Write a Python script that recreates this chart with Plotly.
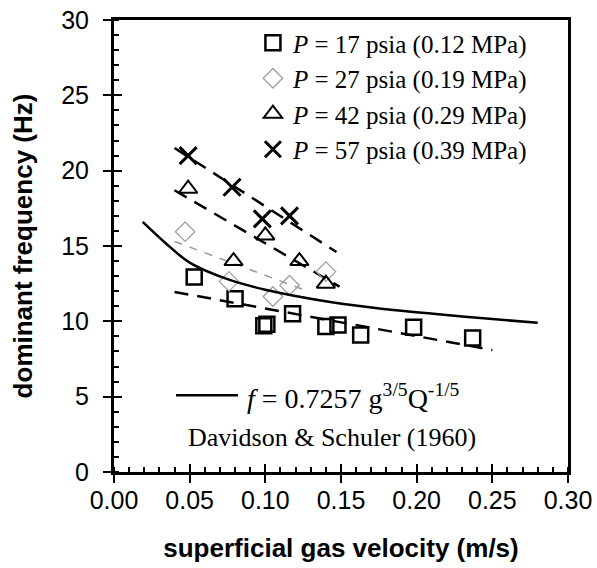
import plotly.graph_objects as go

# ---- data ----
sq_x = [0.053, 0.080, 0.099, 0.101, 0.118, 0.140, 0.148, 0.163, 0.198, 0.237]
sq_y = [12.95, 11.5, 9.7, 9.8, 10.5, 9.65, 9.75, 9.1, 9.6, 8.9]

di_x = [0.047, 0.076, 0.105, 0.116, 0.140]
di_y = [15.95, 12.65, 11.65, 12.4, 13.3]

tr_x = [0.049, 0.079, 0.100, 0.1225, 0.140]
tr_y = [18.8, 14.0, 15.7, 14.0, 12.5]

xx_x = [0.049, 0.078, 0.098, 0.116]
xx_y = [21.0, 18.9, 16.8, 17.0]

# dashed fit lines (end points)
fit_sq_x = [0.040, 0.250]
fit_sq_y = [11.95, 8.1]
fit_di_x = [0.040, 0.128]
fit_di_y = [15.3, 12.0]
fit_tr_x = [0.040, 0.149]
fit_tr_y = [18.7, 12.3]
fit_xx_x = [0.040, 0.147]
fit_xx_y = [21.5, 14.6]

# Davidson & Schuler curve
ds_x = [0.019, 0.034, 0.050, 0.075, 0.100, 0.145, 0.180, 0.211, 0.250, 0.280]
ds_y = [16.6, 15.2, 13.9, 12.8, 12.1, 11.25, 10.8, 10.5, 10.15, 9.9]

names = ["<i>P</i> = 17 psia (0.12 MPa)", "<i>P</i> = 27 psia (0.19 MPa)",
         "<i>P</i> = 42 psia (0.29 MPa)", "<i>P</i> = 57 psia (0.39 MPa)"]

SERIF = "Liberation Serif, Times New Roman, serif"
SANS = "Liberation Sans, Arial, sans-serif"

fig = go.Figure()

dash = "14px,9px"
fig.add_trace(go.Scatter(x=fit_sq_x, y=fit_sq_y, mode="lines", showlegend=False,
                         line=dict(color="black", width=2.5, dash=dash)))
fig.add_trace(go.Scatter(x=fit_di_x, y=fit_di_y, mode="lines", showlegend=False,
                         line=dict(color="#9a9a9a", width=1.5, dash="8px,8px")))
fig.add_trace(go.Scatter(x=fit_tr_x, y=fit_tr_y, mode="lines", showlegend=False,
                         line=dict(color="black", width=2.5, dash=dash)))
fig.add_trace(go.Scatter(x=fit_xx_x, y=fit_xx_y, mode="lines", showlegend=False,
                         line=dict(color="black", width=2.5, dash=dash)))

fig.add_trace(go.Scatter(x=sq_x, y=sq_y, mode="markers", name=names[0],
                         marker=dict(symbol="square-open", size=15, color="black",
                                     line=dict(width=2.5, color="black"))))
fig.add_trace(go.Scatter(x=di_x, y=di_y, mode="markers", name=names[1],
                         marker=dict(symbol="diamond-open", size=15, color="#a0a0a0",
                                     line=dict(width=1.3, color="#a0a0a0"))))
fig.add_trace(go.Scatter(x=tr_x, y=tr_y, mode="markers", name=names[2],
                         marker=dict(symbol="triangle-up-open", size=16, color="black",
                                     line=dict(width=2, color="black"))))
fig.add_trace(go.Scatter(x=xx_x, y=xx_y, mode="markers", name=names[3],
                         marker=dict(symbol="x-thin", size=17, color="black",
                                     line=dict(width=3, color="black"))))

fig.add_trace(go.Scatter(x=ds_x, y=ds_y, mode="lines", showlegend=False,
                         line=dict(color="black", width=2.5, shape="spline"),
                         xaxis="x2", yaxis="y2"))

axis_common = dict(showgrid=False, zeroline=False, automargin=False)
fig.update_layout(
    width=597, height=568,
    margin=dict(l=114, r=29, t=20, b=96),
    paper_bgcolor="white", plot_bgcolor="white",
    xaxis=dict(range=[0, 0.3], dtick=0.05, tick0=0, tickformat=".2f",
               ticks="outside", ticklen=8, tickwidth=2, tickcolor="black",
               minor=dict(dtick=0.01, ticks="inside", ticklen=5, tickwidth=2, tickcolor="black"),
               showline=True, linewidth=3, linecolor="black", mirror=True,
               tickfont=dict(family=SANS, size=25, color="black"),
               ticklabelstandoff=-4,
               title=dict(text="<b>superficial gas velocity (m/s)</b>", standoff=26,
                          font=dict(family=SANS, size=26, color="black")),
               **axis_common),
    yaxis=dict(range=[0, 30], dtick=5, tick0=0,
               ticks="outside", ticklen=8, tickwidth=2, tickcolor="black",
               minor=dict(dtick=1, ticks="inside", ticklen=5, tickwidth=2, tickcolor="black"),
               showline=True, linewidth=3, linecolor="black", mirror=True,
               tickfont=dict(family=SANS, size=25, color="black"),
               ticklabelstandoff=9,
               title=dict(text="<b>dominant frequency (Hz)</b>", standoff=22,
                          font=dict(family=SANS, size=26, color="black")),
               **axis_common),
    xaxis2=dict(overlaying="x", matches="x", anchor="y2", side="bottom",
                ticks="inside", ticklen=8, tickwidth=2, tickcolor="black",
                dtick=0.05, tick0=0, showticklabels=False, showline=False, **axis_common),
    yaxis2=dict(overlaying="y", matches="y", anchor="x2", side="left",
                ticks="inside", ticklen=8, tickwidth=2, tickcolor="black",
                dtick=5, tick0=0, showticklabels=False, showline=False, **axis_common),
    legend=dict(x=0.306, y=1.0, xanchor="left", yanchor="top",
                bgcolor="rgba(0,0,0,0)", borderwidth=0,
                font=dict(family=SERIF, size=25, color="black"),
                itemwidth=30, tracegroupgap=0),
    showlegend=True,
)

# formula key
fig.add_shape(type="line", xref="paper", yref="paper", x0=0.1366, x1=0.273, y0=0.170, y1=0.170,
              line=dict(color="black", width=2.5))
fig.add_annotation(xref="paper", yref="paper", x=0.2885, y=0.166, xanchor="left", yanchor="middle",
                   text="<i>f</i> = 0.7257 g<sup>3/5</sup>Q<sup>-1/5</sup>", showarrow=False,
                   font=dict(family=SERIF, size=28, color="black"))
fig.add_annotation(xref="paper", yref="paper", x=0.48, y=0.077, xanchor="center", yanchor="middle",
                   text="Davidson &amp; Schuler (1960)", showarrow=False,
                   font=dict(family=SERIF, size=26, color="black"))

fig.write_html("out.html")
